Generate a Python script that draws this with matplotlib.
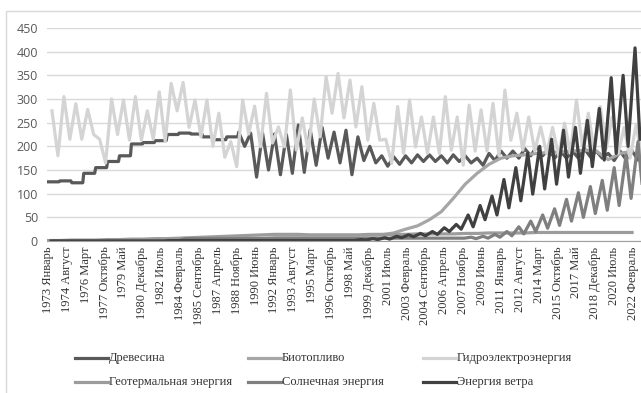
import matplotlib.pyplot as plt
from matplotlib.lines import Line2D
from matplotlib.patches import Rectangle

# Years shown in the chart (monthly axis, Jan 1973 = month 0)
years = list(range(1973, 2023))

# Wood: annual level (flat within a year) up to 1988
wood_early = [125, 127, 123, 143, 155, 168, 180, 205, 208, 212,
              225, 228, 226, 220, 214, 220]
# Wood from 1989: winter high / summer low
wood_winter = [230, 228, 228, 226, 225, 245, 235, 240, 230, 234,
               220, 200, 180, 178, 180, 182, 182, 180, 182, 180,
               175, 185, 190, 190, 195, 200, 195, 190, 190, 195,
               190, 185, 190, 190]
wood_summer = [200, 135, 150, 140, 143, 145, 160, 175, 165, 140,
               170, 165, 158, 162, 165, 168, 168, 165, 168, 165,
               160, 170, 175, 175, 180, 180, 175, 175, 175, 178,
               175, 170, 172, 172]

biofuel = [0, 0, 0, 0, 0, 0, 0, 0, 1, 2,
           3, 4, 5, 5, 5, 5, 5, 6, 6, 7,
           8, 9, 10, 10, 11, 10, 11, 12, 13, 17,
           25, 32, 45, 62, 90, 120, 143, 162, 175, 180,
           182, 185, 187, 188, 190, 192, 190, 172, 185, 190]

hydro_peak = [275, 305, 290, 278, 215, 300, 298, 305, 275, 315,
              333, 335, 298, 298, 270, 210, 298, 285, 312, 241,
              319, 260, 300, 347, 354, 340, 326, 291, 215, 284,
              298, 262, 262, 305, 262, 287, 277, 291, 319, 270,
              262, 241, 240, 249, 298, 270, 284, 262, 240, 245]
hydro_low = [180, 215, 215, 225, 165, 225, 213, 213, 215, 210,
             275, 240, 220, 200, 177, 157, 226, 199, 207, 199,
             192, 190, 220, 270, 260, 241, 213, 213, 164, 185,
             199, 185, 185, 192, 160, 190, 190, 180, 213, 192,
             190, 185, 180, 185, 200, 190, 195, 185, 175, 180]

geothermal = [1, 1, 2, 2, 2, 3, 3, 4, 4, 5,
              5, 6, 7, 8, 9, 10, 11, 12, 13, 14,
              14, 14, 13, 13, 13, 13, 13, 14, 14, 14,
              14, 15, 15, 15, 15, 16, 16, 17, 17, 17,
              17, 18, 18, 18, 18, 18, 18, 18, 18, 18]

solar_peak = [0] * 11 + [5] * 16 + [6] * 8 + [
    8, 10, 14, 20, 30, 42, 55, 68, 88, 102, 115, 128, 155, 182, 210]
solar_low = [0] * 11 + [5] * 16 + [6] * 8 + [
    5, 6, 8, 11, 15, 20, 27, 33, 42, 50, 58, 65, 75, 90, 100]

wind_peak = [0] * 10 + [1] * 16 + [
    3, 5, 7, 10, 13, 16, 20, 28, 35, 55, 75, 95, 130, 155, 185,
    200, 215, 234, 240, 255, 280, 345, 350, 408]
wind_low = [0] * 10 + [1] * 16 + [
    2, 3, 4, 7, 9, 11, 14, 20, 25, 30, 45, 55, 70, 85, 99,
    110, 120, 135, 143, 157, 171, 185, 200, 215]

tick_labels = ['1973 Январь', '1974 Август', '1976 Март', '1977 Октябрь',
               '1979 Май', '1980 Декабрь', '1982 Июль', '1984 Февраль',
               '1985 Сентябрь', '1987 Апрель', '1988 Ноябрь', '1990 Июнь',
               '1992 Январь', '1993 Август', '1995 Март', '1996 Октябрь',
               '1998 Май', '1999 Декабрь', '2001 Июль', '2003 Февраль',
               '2004 Сентябрь', '2006 Апрель', '2007 Ноябрь', '2009 Июнь',
               '2011 Январь', '2012 Август', '2014 Март', '2015 Октябрь',
               '2017 Май', '2018 Декабрь', '2020 Июль', '2022 Февраль']
tick_step = 19  # months between labels


def two_per_year(first, second, m1, m2):
    xs, ys = [], []
    for i, (a, b) in enumerate(zip(first, second)):
        xs += [12 * i + m1, 12 * i + m2]
        ys += [a, b]
    return xs, ys


def wood_series():
    xs, ys = [], []
    for i, v in enumerate(wood_early):
        xs += [12 * i, 12 * i + 11]
        ys += [v, v]
    start = len(wood_early)
    for j, (w, s) in enumerate(zip(wood_winter, wood_summer)):
        xs += [12 * (start + j), 12 * (start + j) + 6]
        ys += [w, s]
    return xs, ys


# Legend drawn like Excel: equal-width columns, two rows
def draw_legend(fig, entries):
    W, H = 641, 393
    col_x = [75, 248, 423]
    row_y = [358, 382]
    for k, (label, color) in enumerate(entries):
        x0 = col_x[k % 3]
        y0 = row_y[k // 3]
        fig.add_artist(Line2D([x0 / W, (x0 + 33) / W], [1 - y0 / H, 1 - y0 / H],
                              color=color, lw=2.3, transform=fig.transFigure))
        fig.text((x0 + 34) / W, 1 - y0 / H, label, va='center', ha='left',
                 family='Liberation Serif', fontsize=9, color='#333333')


def create_plot():
    fig = plt.figure(figsize=(6.41, 3.93), dpi=100)
    ax = fig.add_axes([47 / 641, 152 / 393, 594 / 641, 213 / 393])

    lw = 2.3
    c_wood, c_bio, c_hydro = '#595959', '#a6a6a6', '#d4d4d4'
    c_geo, c_solar, c_wind = '#9c9c9c', '#7f7f7f', '#404040'

    wx, wy = wood_series()
    ax.plot(wx, wy, color=c_wood, lw=lw)
    ax.plot([12 * i for i in range(len(biofuel))], biofuel, color=c_bio, lw=lw)
    hx, hy = two_per_year(hydro_peak, hydro_low, 4, 10)
    ax.plot(hx, hy, color=c_hydro, lw=lw)
    ax.plot([12 * i for i in range(len(geothermal))], geothermal,
            color=c_geo, lw=lw)
    sx, sy = two_per_year(solar_peak, solar_low, 6, 11)
    ax.plot(sx, sy, color=c_solar, lw=lw)
    vx, vy = two_per_year(wind_peak, wind_low, 3, 8)
    ax.plot(vx, vy, color=c_wind, lw=lw)

    ax.set_xlim(-1, 597)
    ax.set_ylim(0, 450)
    ax.set_yticks(range(0, 451, 50))
    ax.grid(axis='y', color='#d9d9d9', lw=1)
    ax.set_axisbelow(True)
    for side in ['top', 'right', 'left']:
        ax.spines[side].set_visible(False)
    ax.spines['bottom'].set_color('#a0a0a0')
    ax.tick_params(axis='y', length=0, pad=6.5, labelsize=9, labelcolor='#595959')
    for t in ax.get_yticklabels():
        t.set_fontfamily('Open Sans')

    ax.set_xticks([i * tick_step for i in range(len(tick_labels))])
    ax.set_xticklabels(tick_labels, rotation=90, fontsize=9,
                       family='Liberation Serif', color='#333333')
    ax.tick_params(axis='x', length=0, pad=4)

    draw_legend(fig, [('Древесина', c_wood), ('Биотопливо', c_bio),
                      ('Гидроэлектроэнергия', c_hydro),
                      ('Геотермальная энергия', c_geo),
                      ('Солнечная энергия', c_solar),
                      ('Энергия ветра', c_wind)])

    fig.patches.append(Rectangle((6 / 641, -0.1), 1.2, 1.1 - 11 / 393,
                                 transform=fig.transFigure, fill=False,
                                 edgecolor='#d9d9d9', lw=1))
    fig.savefig('out.png', dpi=100, facecolor='white')


if __name__ == '__main__':
    create_plot()
